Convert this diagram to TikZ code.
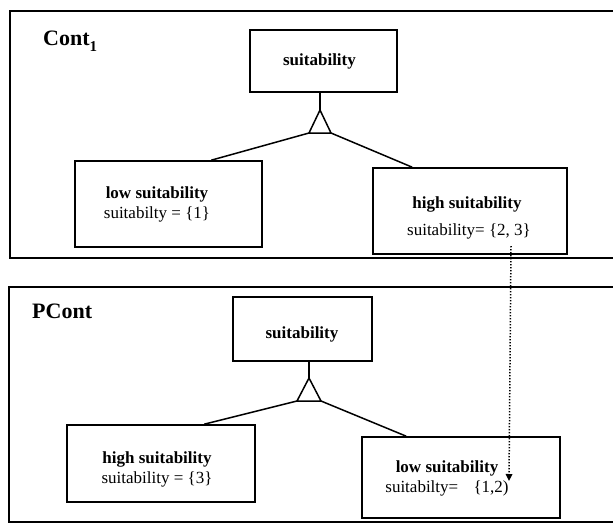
\documentclass[tikz,border=0pt]{standalone}
\usepackage{fontspec}
\setmainfont{Liberation Serif}
\usetikzlibrary{arrows.meta}
\begin{document}
\begin{tikzpicture}[x=1pt,y=-1pt,
  frame/.style={line width=1.8pt},
  box/.style={draw,line width=1.6pt,inner sep=0pt},
  link/.style={line width=1.5pt},
  ctx/.style={font=\fontsize{22}{24}\selectfont\bfseries,anchor=base west,inner sep=0pt},
  head/.style={font=\fontsize{17}{19}\selectfont\bfseries,anchor=base,inner sep=0pt},
  val/.style={font=\fontsize{17}{19}\selectfont,anchor=base,inner sep=0pt},
  trace/.style={line width=1.5pt,dash pattern=on 1.3pt off 1.7pt,
    -{Triangle[length=7pt,width=6.5pt]}}]
\useasboundingbox (0,0) rectangle (613,531);

% ---------- context Cont_1 ----------
\draw[frame] (613,11) -| (10,258) -- (613,258);
\node[ctx] (c1) at (43,45) {Cont\raisebox{-0.3em}{\fontsize{15}{15}\selectfont 1}};

\node[box,minimum width=147,minimum height=62] (s1) at (323.5,61) {};
\node[head] (s1t) at (319.5,65) {suitability};

\coordinate (t1a) at (320,110);
\coordinate (t1l) at (309,133);
\coordinate (t1r) at (331,133);
\draw[link] (s1.south -| t1a) -- (t1a);
\draw[link] (t1a) -- (t1l) -- (t1r) -- cycle;

\node[box,minimum width=187,minimum height=86] (lo1) at (168.5,204) {};
\node[head] (lo1h) at (157,198) {low suitability};
\node[val]  (lo1v) at (157,218) {suitabilty = \{1\}};

\node[box,minimum width=194,minimum height=86] (hi1) at (470,211) {};
\node[head] (hi1h) at (467,208) {high suitability};
\node[val]  (hi1v) at (469,235) {suitability= \{2, 3\}};

\draw[link] (t1l) -- ([xshift=137pt]lo1.north west);
\draw[link] (t1r) -- ([xshift=40pt]hi1.north west);

% ---------- context PCont ----------
\draw[frame] (613,287) -| (9,522) -- (613,522);
\node[ctx] (c2) at (32,318) {PCont};

\node[box,minimum width=139,minimum height=64] (s2) at (302.5,329) {};
\node[head] (s2t) at (302,338) {suitability};

\coordinate (t2a) at (309,378);
\coordinate (t2l) at (297,401);
\coordinate (t2r) at (321,401);
\draw[link] (s2.south -| t2a) -- (t2a);
\draw[link] (t2a) -- (t2l) -- (t2r) -- cycle;

\node[box,minimum width=188,minimum height=77] (hi2) at (161,463.5) {};
\node[head] (hi2h) at (157,463) {high suitability};
\node[val]  (hi2v) at (157,483) {suitability = \{3\}};

\node[box,minimum width=198,minimum height=81] (lo2) at (461,477.5) {};
\node[head] (lo2h) at (447,472) {low suitability};
\node[val]  (lo2v) at (447,492) {suitabilty=\hspace{0.9em}\{1,2)};

\draw[link] (t2l) -- ([xshift=138pt]hi2.north west);
\draw[link] (t2r) -- ([xshift=45pt]lo2.north west);

% ---------- trace between the two contexts ----------
\coordinate (dA) at (511,246);
\coordinate (dB) at (509,481);
\draw[trace] (dA) -- (dB);
\end{tikzpicture}
\end{document}
